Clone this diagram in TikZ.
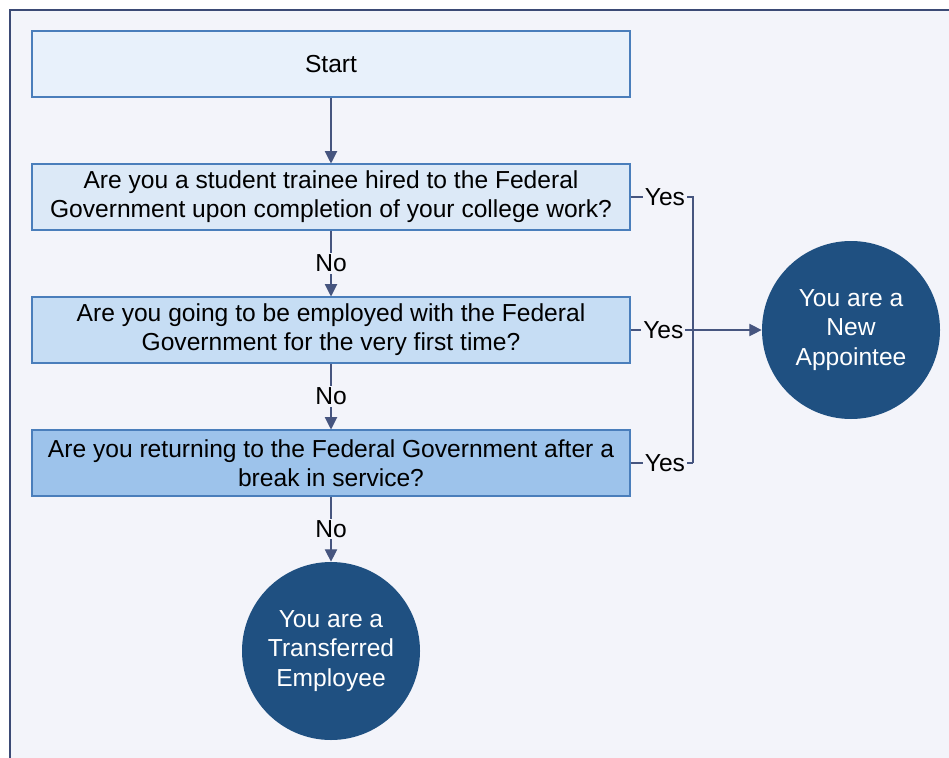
\documentclass[tikz,border=0pt]{standalone}
\usepackage{fontspec}
\setmainfont{Liberation Sans}
\usepackage{tikz}
\usetikzlibrary{arrows.meta}

\definecolor{pagebg}{HTML}{F3F4FA}
\definecolor{framecol}{HTML}{3B4A75}
\definecolor{boxline}{HTML}{4A7EBB}
\definecolor{linkcol}{HTML}{46557F}
\definecolor{endcol}{HTML}{1F5081}
\definecolor{startfill}{HTML}{E8F1FB}
\definecolor{qafill}{HTML}{DCE9F7}
\definecolor{qbfill}{HTML}{C6DDF4}
\definecolor{qcfill}{HTML}{9DC3EB}

\tikzset{
  qbox/.style={draw=boxline,line width=0.6pt,minimum width=598*0.02cm,minimum height=66*0.02cm,align=center,inner sep=2pt},
  endcirc/.style={circle,fill=endcol,text=white,minimum size=178*0.02cm,align=center,inner sep=0pt},
  answer/.style={fill=pagebg,inner sep=1pt},
  link/.style={draw=linkcol,line width=0.6pt}
}

\begin{document}
\begin{tikzpicture}[x=0.02cm,y=-0.02cm,>={Triangle[length=7pt,width=7pt]},
  font=\fontsize{14}{16.6}\selectfont]
\useasboundingbox (0,0) rectangle (949,757);
\fill[white] (0,0) rectangle (949,757);
\draw[framecol,fill=pagebg,line width=1.4pt] (10,10) rectangle (970,780);
% boxes
\node[qbox,fill=startfill] (start) at (331,64) {Start};
\node[qbox,fill=qafill] (q1) at (331,197) {Are you a student trainee hired to the Federal\\Government upon completion of your college work?};
\node[qbox,fill=qbfill] (q2) at (331,330) {Are you going to be employed with the Federal\\Government for the very first time?};
\node[qbox,fill=qcfill] (q3) at (331,463) {Are you returning to the Federal Government after a\\break in service?};
\node[endcirc] (transf) at (331,651) {You are a\\Transferred\\Employee};
\node[endcirc] (newapp) at (851,330) {You are a\\New\\Appointee};
\coordinate (bus1) at (693,197);
\coordinate (bus3) at (693,463);
% no branch
\draw[link,->] (start) -- (q1);
\draw[link,->] (q1) -- node[answer] {No} (q2);
\draw[link,->] (q2) -- node[answer] {No} (q3);
\draw[link,->] (q3) -- node[answer] {No} (transf);
% yes branch
\draw[link] (q1.east) -- node[answer,pos=0.55] {Yes} (bus1) -- (bus3);
\draw[link] (q3.east) -- node[answer,pos=0.55] {Yes} (bus3);
\draw[link,->] (q2.east) -- node[answer,pos=0.25] {Yes} (newapp);
\end{tikzpicture}
\end{document}
